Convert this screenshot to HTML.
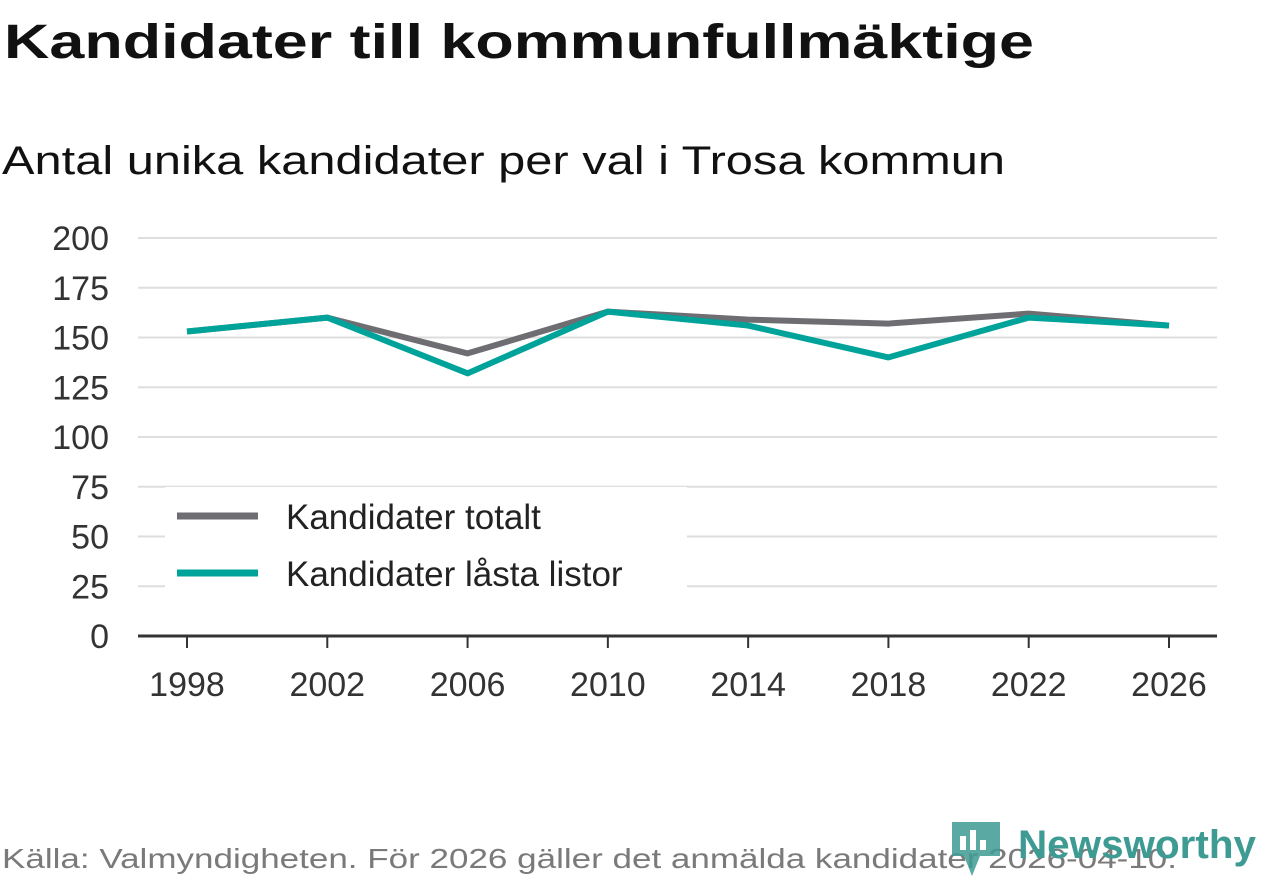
<!DOCTYPE html>
<html><head><meta charset="utf-8"><style>
html,body{margin:0;padding:0;background:#fff;}
svg{display:block;font-family:"Liberation Sans","DejaVu Sans",sans-serif;}
</style></head><body>
<svg id="chart" width="1262" height="879" viewBox="0 0 1262 879">
<text x="4" y="58" font-size="48" font-weight="bold" fill="#111" textLength="1030" lengthAdjust="spacingAndGlyphs">Kandidater till kommunfullmäktige</text>
<text x="2" y="174" font-size="40" fill="#111" textLength="1003" lengthAdjust="spacingAndGlyphs">Antal unika kandidater per val i Trosa kommun</text>
<g id="grid"></g><g id="yticks"></g><g id="xticks"></g><g id="lines"></g>
<g>
<rect x="165" y="487" width="522" height="113" fill="#fff"/>
<line x1="177" y1="516" x2="258" y2="516" stroke="#6e6d72" stroke-width="7"/>
<text x="286" y="529" font-size="35" fill="#222">Kandidater totalt</text>
<line x1="177" y1="573" x2="258" y2="573" stroke="#00a39a" stroke-width="7"/>
<text x="286" y="586" font-size="35" fill="#222">Kandidater låsta listor</text>
</g>
<text x="2" y="868" font-size="28" fill="#7a7a7a" textLength="1175" lengthAdjust="spacingAndGlyphs">Källa: Valmyndigheten. För 2026 gäller det anmälda kandidater 2026-04-10.</text>
<g>
<path d="M952 822 h48 v34 h-20 l-8 20 l-8 -20 h-12 z" fill="#3d9b93" opacity="0.85"/>
<rect x="960" y="836" width="6" height="14" fill="#fff"/><rect x="970" y="830" width="6" height="20" fill="#fff"/><rect x="980" y="840" width="6" height="10" fill="#fff"/>
<text x="1018" y="858" font-size="40" font-weight="bold" fill="#3d9b93" textLength="238" lengthAdjust="spacingAndGlyphs">Newsworthy</text>
</g>
</svg>
<script>
const years=[1998,2002,2006,2010,2014,2018,2022,2026];
const totalValues=[153,160,142,163,159,157,162,156];
const lockedValues=[153,160,132,163,156,140,160,156];
const yTicks=[0,25,50,75,100,125,150,175,200];
const NS="http://www.w3.org/2000/svg";
const x=v=>187+(v-1998)*(1169-187)/28;
const y=v=>636-v*(636-238)/200;
function mk(t,a,p){const e=document.createElementNS(NS,t);for(const k in a)e.setAttribute(k,a[k]);p.appendChild(e);return e;}
const grid=document.getElementById('grid'),yt=document.getElementById('yticks'),xt=document.getElementById('xticks'),ln=document.getElementById('lines');
yTicks.forEach(v=>{
 if(v>0){const g=mk('line',{x1:138,x2:1217,y1:y(v),y2:y(v),stroke:'#dedede','stroke-width':2},grid);
 
 }
 const t=mk('text',{x:109,y:y(v)+12,'font-size':34,fill:'#333','text-anchor':'end'},yt);t.textContent=v;
 
 
});
const ax=mk('line',{x1:138,x2:1217,y1:636,y2:636,stroke:'#333','stroke-width':3},grid);


years.forEach(v=>{
 mk('line',{x1:x(v),x2:x(v),y1:636,y2:648,stroke:'#333','stroke-width':2},xt);
 const t=mk('text',{x:x(v),y:696,'font-size':34,fill:'#333','text-anchor':'middle'},xt);t.textContent=v;
 
 
});
function line(vals,color,name){
 const p=mk('polyline',{points:vals.map((v,i)=>x(years[i])+','+y(v)).join(' '),fill:'none',stroke:color,'stroke-width':6,'stroke-linejoin':'round'},ln);
 
 
}
line(totalValues,'#6e6d72','series-total');
line(lockedValues,'#00a39a','series-locked');
</script>
</body></html>
